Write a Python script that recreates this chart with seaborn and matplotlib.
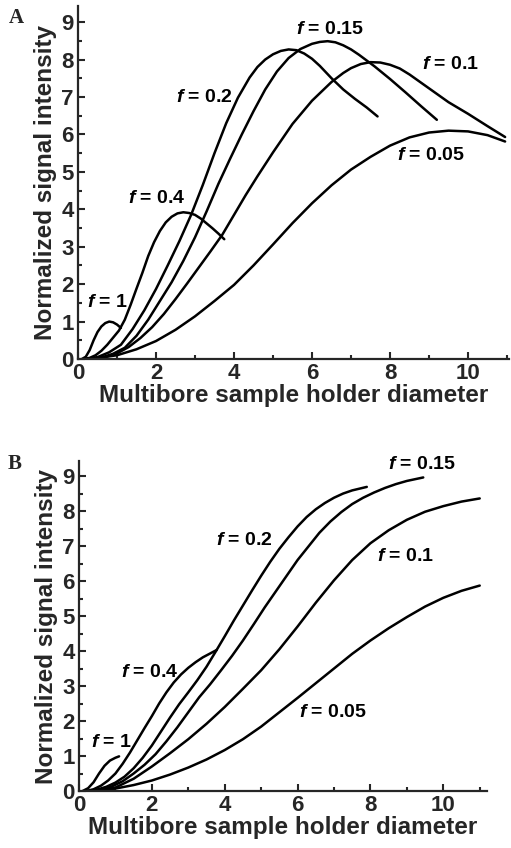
import numpy as np
import pandas as pd
import matplotlib
matplotlib.use("Agg")
import matplotlib.pyplot as plt
import seaborn as sns
from matplotlib.ticker import MultipleLocator

# ---------------- Panel A data ----------------
a_f1_x = [0.1, 0.2, 0.3, 0.4, 0.5, 0.6, 0.7, 0.8, 0.9, 1.0, 1.1]
a_f1_y = [0, 0.06, 0.24, 0.5, 0.72, 0.87, 0.96, 1.0, 0.98, 0.92, 0.83]

a_f04_x = [0.15, 0.3, 0.45, 0.6, 0.75, 0.9, 1.05, 1.2, 1.35, 1.5, 1.65, 1.8, 1.95,
           2.1, 2.25, 2.4, 2.55, 2.7, 2.85, 3.0, 3.15, 3.3, 3.45, 3.6, 3.75]
a_f04_y = [0, 0.03, 0.1, 0.22, 0.38, 0.57, 0.76, 1.05, 1.45, 1.88, 2.3, 2.75, 3.12,
           3.42, 3.65, 3.8, 3.89, 3.92, 3.9, 3.85, 3.75, 3.62, 3.49, 3.35, 3.2]

a_f02_x = [0.2, 0.5, 0.8, 1.1, 1.4, 1.7, 2.0, 2.3, 2.6, 2.9, 3.2, 3.5, 3.8, 4.1, 4.4,
           4.6, 4.8, 5.0, 5.2, 5.4, 5.6, 5.8, 6.0, 6.2, 6.5, 6.8, 7.1, 7.4, 7.68]
a_f02_y = [0, 0.05, 0.18, 0.38, 0.8, 1.3, 1.87, 2.5, 3.15, 3.85, 4.65, 5.5, 6.3, 6.98,
           7.52, 7.8, 8.0, 8.14, 8.23, 8.27, 8.25, 8.16, 8.02, 7.83, 7.5, 7.2, 6.95,
           6.72, 6.48]

a_f015_x = [0.25, 0.6, 0.9, 1.2, 1.5, 1.8, 2.1, 2.4, 2.7, 3.0, 3.3, 3.6, 3.9, 4.2, 4.5,
            4.8, 5.1, 5.4, 5.7, 6.0, 6.2, 6.4, 6.6, 6.8, 7.0, 7.2, 7.6, 8.0, 8.4,
            8.8, 9.2]
a_f015_y = [0, 0.04, 0.14, 0.3, 0.62, 1.05, 1.55, 2.05, 2.62, 3.25, 3.95, 4.68, 5.35,
            6.0, 6.62, 7.2, 7.68, 8.04, 8.28, 8.42, 8.47, 8.49, 8.46, 8.38, 8.27,
            8.13, 7.82, 7.48, 7.12, 6.75, 6.39]

a_f01_x = [0.3, 0.7, 1.0, 1.3, 1.6, 1.9, 2.2, 2.5, 2.8, 3.1, 3.4, 3.7, 4.0, 4.3, 4.6,
           5.0, 5.5, 6.0, 6.5, 6.8, 7.0, 7.25, 7.5, 7.75, 8.0, 8.25, 8.5, 9.0, 9.5,
           10.0, 10.5, 10.95]
a_f01_y = [0, 0.05, 0.15, 0.32, 0.56, 0.85, 1.2, 1.6, 2.02, 2.45, 2.88, 3.32, 3.85,
           4.38, 4.88, 5.52, 6.28, 6.9, 7.4, 7.64, 7.77, 7.88, 7.93, 7.92, 7.86,
           7.76, 7.6, 7.23, 6.86, 6.55, 6.22, 5.93]

a_f005_x = [0.3, 1.0, 1.5, 2.0, 2.5, 3.0, 3.5, 4.0, 4.5, 5.0, 5.5, 6.0, 6.5, 7.0, 7.5,
            8.0, 8.5, 9.0, 9.5, 10.0, 10.5, 10.95]
a_f005_y = [0, 0.1, 0.26, 0.48, 0.78, 1.14, 1.55, 1.98, 2.5, 3.06, 3.63, 4.16, 4.64,
            5.06, 5.4, 5.7, 5.92, 6.05, 6.1, 6.08, 5.98, 5.81]

# ---------------- Panel B data ----------------
b_f1_x = [0.1, 0.25, 0.4, 0.55, 0.7, 0.85, 1.0, 1.1]
b_f1_y = [0, 0.08, 0.25, 0.5, 0.72, 0.87, 0.95, 0.99]

b_f04_x = [0.2, 0.4, 0.6, 0.8, 1.0, 1.2, 1.4, 1.6, 1.8, 2.0, 2.2, 2.4, 2.6, 2.8, 3.0,
           3.2, 3.4, 3.6, 3.78]
b_f04_y = [0, 0.05, 0.15, 0.3, 0.5, 0.78, 1.1, 1.45, 1.8, 2.14, 2.5, 2.82, 3.1, 3.33,
           3.52, 3.68, 3.82, 3.93, 4.03]

b_f02_x = [0.25, 0.5, 0.75, 1.0, 1.25, 1.5, 1.75, 2.0, 2.25, 2.5, 2.75, 3.0, 3.25, 3.5,
           3.75, 4.0, 4.25, 4.5, 4.75, 5.0, 5.25, 5.5, 5.75, 6.0, 6.25, 6.5, 6.75, 7.0,
           7.25, 7.5, 7.9]
b_f02_y = [0, 0.04, 0.12, 0.24, 0.41, 0.65, 0.95, 1.3, 1.7, 2.1, 2.48, 2.82, 3.17, 3.55,
           3.98, 4.42, 4.87, 5.3, 5.73, 6.15, 6.55, 6.92, 7.25, 7.56, 7.83, 8.05, 8.23,
           8.38, 8.5, 8.59, 8.69]

b_f015_x = [0.3, 0.6, 0.9, 1.2, 1.5, 1.8, 2.1, 2.4, 2.7, 3.0, 3.3, 3.6, 3.9, 4.2, 4.5,
            4.8, 5.1, 5.4, 5.7, 6.0, 6.3, 6.6, 6.9, 7.2, 7.5, 7.8, 8.1, 8.4, 8.7, 9.0,
            9.45]
b_f015_y = [0, 0.04, 0.13, 0.28, 0.5, 0.75, 1.05, 1.42, 1.82, 2.25, 2.68, 3.05, 3.45,
            3.86, 4.3, 4.77, 5.25, 5.7, 6.15, 6.6, 6.99, 7.38, 7.7, 7.97, 8.2, 8.38,
            8.53, 8.66, 8.77, 8.86, 8.96]

b_f01_x = [0.3, 1.0, 1.5, 2.0, 2.5, 3.0, 3.5, 4.0, 4.5, 5.0, 5.5, 6.0, 6.5, 7.0, 7.5,
           8.0, 8.5, 9.0, 9.5, 10.0, 10.5, 11.0]
b_f01_y = [0, 0.1, 0.35, 0.7, 1.08, 1.48, 1.92, 2.4, 2.92, 3.45, 4.05, 4.7, 5.38, 6.02,
           6.6, 7.08, 7.45, 7.75, 7.98, 8.14, 8.27, 8.36]

b_f005_x = [0.3, 1.0, 1.5, 2.0, 2.5, 3.0, 3.5, 4.0, 4.5, 5.0, 5.5, 6.0, 6.5, 7.0, 7.5,
            8.0, 8.5, 9.0, 9.5, 10.0, 10.5, 11.0]
b_f005_y = [0, 0.07, 0.17, 0.3, 0.47, 0.67, 0.9, 1.17, 1.48, 1.84, 2.25, 2.66, 3.08,
            3.5, 3.92, 4.3, 4.65, 4.97, 5.27, 5.52, 5.72, 5.87]

f_labels = ["1", "0.4", "0.2", "0.15", "0.1", "0.05"]

a_label_x = [0.22, 1.27, 2.5, 5.6, 8.83, 8.18]
a_label_y = [1.5, 4.28, 6.99, 8.8, 7.86, 5.43]
b_label_x = [0.33, 1.15, 3.76, 8.48, 8.18, 6.05]
b_label_y = [1.4, 3.4, 7.17, 9.34, 6.69, 2.23]

x_label = "Multibore sample holder diameter"
y_label = "Normalized signal intensity"

# ---------------- style ----------------
sns.set_theme(style="ticks")
plt.rcParams["font.family"] = ["Liberation Sans", "DejaVu Sans"]
plt.rcParams["font.weight"] = "bold"
plt.rcParams["mathtext.fontset"] = "custom"
plt.rcParams["mathtext.it"] = "Liberation Sans:italic:bold"
plt.rcParams["mathtext.rm"] = "Liberation Sans:bold"
plt.rcParams["axes.linewidth"] = 1.6

W, H = 511, 848
fig = plt.figure(figsize=(W / 100, H / 100), dpi=100)

axA = fig.add_axes([78 / W, 1 - 359 / H, 431 / W, 353 / H])
axB = fig.add_axes([79 / W, 1 - 791 / H, 408 / W, 330 / H])

panels = [
    (axA, [(a_f1_x, a_f1_y), (a_f04_x, a_f04_y), (a_f02_x, a_f02_y),
           (a_f015_x, a_f015_y), (a_f01_x, a_f01_y), (a_f005_x, a_f005_y)],
     a_label_x, a_label_y, 11.05, "A", (9 / W, 1 - 8 / H)),
    (axB, [(b_f1_x, b_f1_y), (b_f04_x, b_f04_y), (b_f02_x, b_f02_y),
           (b_f015_x, b_f015_y), (b_f01_x, b_f01_y), (b_f005_x, b_f005_y)],
     b_label_x, b_label_y, 11.2, "B", (8 / W, 1 - 454 / H)),
]

for ax, curves, lx, ly, xmax, letter, lpos in panels:
    for (xs, ys) in curves:
        df = pd.DataFrame({"x": xs, "y": ys})
        sns.lineplot(data=df, x="x", y="y", ax=ax, color="black", lw=1.8,
                     sort=False, estimator=None)
    for lab, tx, ty in zip(f_labels, lx, ly):
        ax.text(tx, ty, r"$f$" + " = " + lab, fontsize=14, fontweight="bold",
                ha="left", va="center", color="black")
    ax.set_xlim(0, xmax)
    ax.set_ylim(0, 9.43)
    ax.xaxis.set_major_locator(MultipleLocator(2))
    ax.xaxis.set_minor_locator(MultipleLocator(1))
    ax.yaxis.set_major_locator(MultipleLocator(1))
    ax.yaxis.set_minor_locator(MultipleLocator(0.5))
    ax.tick_params(which="major", direction="in", length=5, width=1.5,
                   labelsize=16, pad=3)
    ax.tick_params(which="minor", direction="in", length=3, width=1.5)
    for lbl in ax.get_xticklabels() + ax.get_yticklabels():
        lbl.set_fontweight("bold")
    sns.despine(ax=ax)
    ax.set_xlabel(x_label, fontsize=17.5, fontweight="bold", labelpad=0)
    ax.set_ylabel(y_label, fontsize=17.5, fontweight="bold", labelpad=3)
    fig.text(lpos[0], lpos[1], letter, fontsize=15, fontweight="bold",
             family=["Liberation Serif"], ha="left", va="top")

fig.savefig("out.png", dpi=100, facecolor="white")
